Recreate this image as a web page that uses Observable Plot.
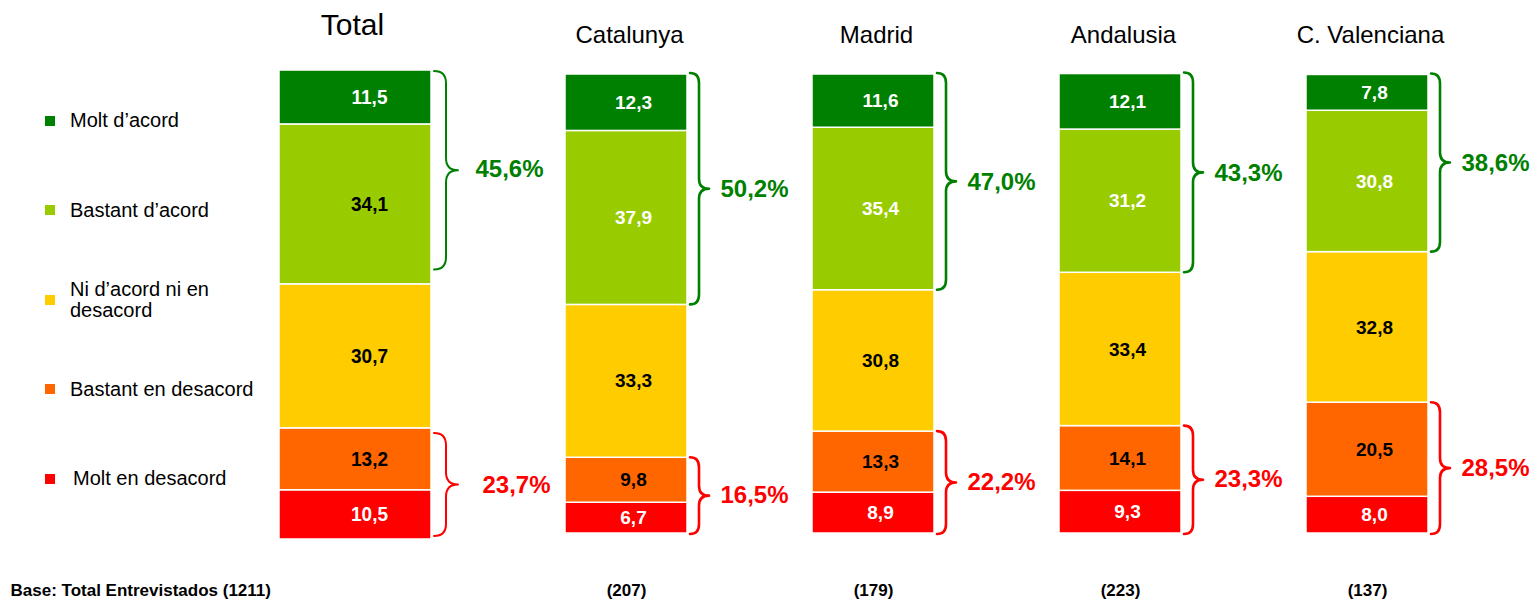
<!DOCTYPE html>
<html>
<head>
<meta charset="utf-8">
<script src="https://cdn.jsdelivr.net/npm/d3@7"></script>
<script src="https://cdn.jsdelivr.net/npm/@observablehq/plot@0.6"></script>
<style>
  html, body { margin: 0; padding: 0; background: #fff; }
  #wrap { position: relative; width: 1537px; height: 602px; font-family: "Liberation Sans", Arial, sans-serif; }
  #legend { position: absolute; left: 45px; top: 76px; }
  .item { height: 89.5px; display: flex; align-items: center; font-size: 20px; line-height: 21px; color: #000; }
  .sw { width: 10px; height: 10px; margin-right: 15px; flex: none; }
</style>
</head>
<body>
<div id="wrap"><div id="legend"></div></div>
<script>
// ---- data ----
const regions = ["Total", "Catalunya", "Madrid", "Andalusia", "C. Valenciana"];
const categories = ["Molt d’acord", "Bastant d’acord", "Ni d’acord ni en desacord", "Bastant en desacord", "Molt en desacord"];
const colors = ["#008000", "#99CC00", "#FFCC00", "#FF6600", "#FF0000"];
const moltAcord = [11.5, 12.3, 11.6, 12.1, 7.8];
const bastantAcord = [34.1, 37.9, 35.4, 31.2, 30.8];
const niNi = [30.7, 33.3, 30.8, 33.4, 32.8];
const bastantDesacord = [13.2, 9.8, 13.3, 14.1, 20.5];
const moltDesacord = [10.5, 6.7, 8.9, 9.3, 8.0];
const totalAcord = [45.6, 50.2, 47.0, 43.3, 38.6];
const totalDesacord = [23.7, 16.5, 22.2, 23.3, 28.5];
const bases = ["(1211)", "(207)", "(179)", "(223)", "(137)"];
const baseLabel = "Base: Total Entrevistados";

// ---- tables ----
const series = [moltAcord, bastantAcord, niNi, bastantDesacord, moltDesacord];
const rows = [];
for (let c = categories.length - 1; c >= 0; --c) // bottom first
  regions.forEach((r, i) => rows.push({region: r, cat: categories[c], value: series[c][i]}));
const order = categories.slice().reverse();
const fmt = v => d3.format(".1f")(v).replace(".", ",");

const spans = regions.map((r, i) => {
  const low2 = moltDesacord[i] + bastantDesacord[i];
  const low3 = low2 + niNi[i];
  const top = low3 + bastantAcord[i] + moltAcord[i];
  return {region: r, low2, low3, top, acord: totalAcord[i], desacord: totalDesacord[i]};
});
const pctRows = spans.flatMap(s => [
  {region: s.region, y: (s.low3 + s.top) / 2, text: fmt(s.acord) + "%", color: colors[0], up: true},
  {region: s.region, y: s.low2 / 2, text: fmt(s.desacord) + "%", color: colors[4], up: false}
]);

const labelFill = d => (d.cat === categories[0] || d.cat === categories[4] ||
  (d.cat === categories[1] && d.region !== "Total")) ? "white" : "black";

const isT = d => d.region === "Total";
const rowsT = rows.filter(isT), rowsO = rows.filter(d => !isT(d));
const pctO = pctRows.filter(d => !isT(d));
const pctTup = pctRows.filter(d => isT(d) && d.up), pctTdown = pctRows.filter(d => isT(d) && !d.up);

function braceMark(which) {
  return (index, scales) => {
    const x = scales.x, y = scales.y, bw = x.bandwidth();
    const g = d3.create("svg:g").attr("fill", "none").attr("stroke-linecap", "round").attr("stroke-linejoin", "round");
    if (which === "total") g.attr("aria-description", "total");
    spans.forEach(s => {
      const t = s.region === "Total";
      if ((which === "total") !== t) return;
      const right = t ? x(s.region) + bw - 10 : x(s.region) + bw - 1;
      const [h, v, tp, rad, sw] = t ? [3, 15, 27, 12, 2] : [3, 12, 22, 10, 2.6];
      const draw = (y1, y2, col) => {
        const x0 = right + h, xv = right + v, xt = right + tp, ym = (y1 + y2) / 2;
        g.append("path")
          .attr("stroke", col).attr("stroke-width", sw)
          .attr("d", `M${x0},${y1} Q${xv},${y1} ${xv},${y1 + rad} L${xv},${ym - rad} Q${xv},${ym} ${xt},${ym} Q${xv},${ym} ${xv},${ym + rad} L${xv},${y2 - rad} Q${xv},${y2} ${x0},${y2}`);
      };
      draw(y(s.top) + (t ? 1 : -1), y(s.low3) - (t ? 14 : 0), colors[0]);
      draw(y(s.low2) + (t ? 5 : 0), y(0) + (t ? -3 : 1), colors[4]);
    });
    return g.node();
  };
}

const font = "'Liberation Sans', Arial, sans-serif";
const chart = Plot.plot({
  width: 1537,
  height: 602,
  marginLeft: 254,
  marginRight: 45,
  marginTop: 74,
  marginBottom: 69,
  style: {fontFamily: font, background: "white", color: "black"},
  x: {domain: regions, paddingInner: 0.5, paddingOuter: 0.25, axis: null},
  y: {domain: [0, 100], axis: null},
  color: {domain: categories, range: colors},
  marks: [
    Plot.barY(rowsO, Plot.stackY({x: "region", y: "value", z: "cat", order, fill: "cat",
      stroke: "white", strokeWidth: 1.5, insetLeft: 1, insetRight: 1})),
    Plot.barY(rowsT, Plot.stackY({x: "region", y: "value", z: "cat", order, fill: "cat",
      stroke: "white", strokeWidth: 1.5, insetLeft: -38, insetRight: 10, ariaDescription: "total"})),
    Plot.text(rowsO, Plot.stackY({x: "region", y: "value", z: "cat", order, text: d => fmt(d.value),
      fill: labelFill, fontSize: 19, fontWeight: "bold", dx: 7})),
    Plot.text(rowsT, Plot.stackY({x: "region", y: "value", z: "cat", order, text: d => fmt(d.value),
      fill: labelFill, fontSize: 19, fontWeight: "bold", dx: -10, ariaDescription: "total"})),
    braceMark("others"),
    braceMark("total"),
    Plot.text(pctO, {x: "region", y: "y", text: "text", fill: "color", fontSize: 24, fontWeight: "bold",
      textAnchor: "start", dx: 94}),
    Plot.text(pctTup, {x: "region", y: "y", text: "text", fill: "color", fontSize: 24, fontWeight: "bold",
      textAnchor: "start", dx: 96, dy: -8, ariaDescription: "total"}),
    Plot.text(pctTdown, {x: "region", y: "y", text: "text", fill: "color", fontSize: 24, fontWeight: "bold",
      textAnchor: "start", dx: 103, dy: 1, ariaDescription: "total"}),
    // titles
    Plot.text(regions.slice(0, 1), {x: d => d, text: d => d, frameAnchor: "top", dy: -61, dx: -27, fontSize: 30}),
    Plot.text(regions.slice(1), {x: d => d, text: d => d, frameAnchor: "top", dy: -49, dx: 3, fontSize: 24}),
    // base footer
    Plot.text(regions.slice(1), {x: d => d, text: (d, i) => bases[i + 1], frameAnchor: "bottom", dy: 62,
      fontSize: 17, fontWeight: "bold"}),
    Plot.text([baseLabel + " " + bases[0]], {text: d => d, frameAnchor: "bottom-left", dx: -244, dy: 62,
      textAnchor: "start", fontSize: 17, fontWeight: "bold"})
  ]
});

// Total bar is drawn slightly taller than the regional bars
const cy = (533 + 74) / 2, cyT = (70 + 539) / 2, k = 469 / 459;
chart.querySelectorAll('[aria-description="total"]').forEach(el => {
  const w = document.createElementNS("http://www.w3.org/2000/svg", "g");
  w.setAttribute("transform", `translate(0,${cyT}) scale(1,${k}) translate(0,${-cy})`);
  el.parentNode.insertBefore(w, el);
  w.appendChild(el);
});

const wrap = document.getElementById("wrap");
wrap.insertBefore(chart, wrap.firstChild);
chart.style.position = "absolute";
chart.style.left = "0";
chart.style.top = "0";

const legend = d3.select("#legend");
categories.forEach((c, i) => {
  const it = legend.append("div").attr("class", "item");
  it.append("div").attr("class", "sw").style("background", colors[i]);
  const t = it.append("div");
  if (i === 4) t.style("margin-left", "3px");
  if (i === 2) { t.append("span").text("Ni d’acord ni en"); t.append("br"); t.append("span").text("desacord"); }
  else t.text(c);
});
</script>
</body>
</html>
